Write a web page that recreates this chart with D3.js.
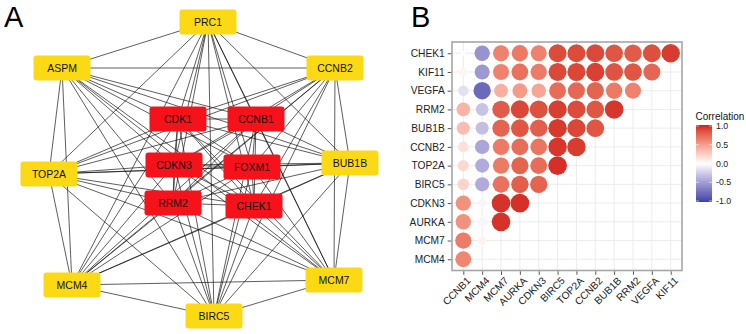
<!DOCTYPE html>
<html><head><meta charset="utf-8">
<script src="https://cdn.jsdelivr.net/npm/d3@7"></script>
<style>body{margin:0;background:#fff}svg{display:block;font-family:Arial,"Liberation Sans",sans-serif}</style>
</head><body><svg id="c" width="746" height="334"></svg>
<script>
// ---------- Panel A: PPI network ----------
const hubGenes = ["CDK1","CCNB1","CDKN3","FOXM1","RRM2","CHEK1"];
const otherGenes = ["PRC1","ASPM","CCNB2","BUB1B","TOP2A","MCM4","MCM7","BIRC5"];
// layout (center positions of node boxes)
const nodeLayout = {
  PRC1:[208,22], ASPM:[62,68], CCNB2:[335,68], CDK1:[178,119], CCNB1:[256,119],
  BUB1B:[350,163], TOP2A:[49,174], CDKN3:[174,165], FOXM1:[252,167],
  RRM2:[173,203], CHEK1:[254,206], MCM4:[72,285], MCM7:[334,280], BIRC5:[214,316]
};
// every gene pair is linked in the network (fully connected)
const networkGenes = otherGenes.concat(hubGenes);

// ---------- Panel B: correlation matrix ----------
const rowGenes = ["CHEK1","KIF11","VEGFA","RRM2","BUB1B","CCNB2","TOP2A","BIRC5","CDKN3","AURKA","MCM7","MCM4"];
const colGenes = ["CCNB1","MCM4","MCM7","AURKA","CDKN3","BIRC5","TOP2A","CCNB2","BUB1B","RRM2","VEGFA","KIF11"];
const corCHEK1 = [0.00,-0.55,0.62,0.66,0.62,0.86,0.86,0.87,0.82,0.80,0.85,0.92];
const corKIF11 = [0.05,-0.52,0.62,0.70,0.65,0.87,0.88,0.90,0.83,0.82,0.75];
const corVEGFA = [-0.15,-0.78,0.40,0.50,0.45,0.72,0.74,0.76,0.66,0.62];
const corRRM2  = [0.38,-0.30,0.80,0.88,0.84,0.91,0.86,0.82,0.94];
const corBUB1B = [0.33,-0.32,0.76,0.82,0.78,0.93,0.88,0.82];
const corCCNB2 = [0.16,-0.45,0.66,0.72,0.68,0.94,0.92];
const corTOP2A = [0.20,-0.42,0.66,0.76,0.72,0.96];
const corBIRC5 = [0.22,-0.42,0.70,0.78,0.76];
const corCDKN3 = [0.55,-0.05,0.95,0.96];
const corAURKA = [0.55,-0.05,0.95];
const corMCM7  = [0.65,0.06];
const corMCM4  = [0.60];
const corRows = [corCHEK1,corKIF11,corVEGFA,corRRM2,corBUB1B,corCCNB2,corTOP2A,corBIRC5,corCDKN3,corAURKA,corMCM7,corMCM4];
const legendTicks = [1.0,0.5,0.0,-0.5,-1.0];

const svg = d3.select("#c");
const FONT = "Arial,'Liberation Sans',sans-serif";

// ---- Panel A ----
const gA = svg.append("g");
gA.append("text").attr("x",4).attr("y",27).attr("font-size",29).attr("fill","#000").text("A");
const links = [];
networkGenes.forEach((a,i)=>networkGenes.forEach((b,j)=>{ if(j>i) links.push([a,b]); }));
gA.append("g").selectAll("line").data(links).join("line")
  .attr("x1",d=>nodeLayout[d[0]][0]).attr("y1",d=>nodeLayout[d[0]][1])
  .attr("x2",d=>nodeLayout[d[1]][0]).attr("y2",d=>nodeLayout[d[1]][1])
  .attr("stroke","#111").attr("stroke-width",0.75).attr("stroke-opacity",0.9);
const nodeG = gA.append("g").selectAll("g").data(networkGenes).join("g")
  .attr("transform",d=>`translate(${nodeLayout[d][0]},${nodeLayout[d][1]})`);
nodeG.append("rect").attr("x",-28.5).attr("y",-12.5).attr("width",57).attr("height",25).attr("rx",3)
  .attr("fill",d=>hubGenes.includes(d)?"#F5121A":"#FCD915");
nodeG.append("text").attr("text-anchor","middle").attr("dy","0.36em").attr("font-size",10.5).attr("fill","#111").text(d=>d);

// ---- Panel B ----
const gB = svg.append("g");
gB.append("text").attr("x",411).attr("y",27).attr("font-size",29).attr("fill","#000").text("B");
const x0=452,x1=682,y0=42,y1=270.5;
const x = d3.scalePoint().domain(colGenes).range([x0,x1]).padding(0.6);
const y = d3.scalePoint().domain(rowGenes).range([y0,y1]).padding(0.6);
gB.append("rect").attr("x",x0).attr("y",y0).attr("width",x1-x0).attr("height",y1-y0).attr("fill","#fff");
gB.append("g").selectAll("line").data(colGenes).join("line")
  .attr("x1",d=>x(d)).attr("x2",d=>x(d)).attr("y1",y0).attr("y2",y1).attr("stroke","#ECECEC").attr("stroke-width",1);
gB.append("g").selectAll("line").data(rowGenes).join("line")
  .attr("y1",d=>y(d)).attr("y2",d=>y(d)).attr("x1",x0).attr("x2",x1).attr("stroke","#ECECEC").attr("stroke-width",1);

const color = d3.scaleLinear().domain([-1,0,1]).range(["#3A44A6","#FFFFFF","#D11F1F"]).interpolate(d3.interpolateLab);
const radius = v => 2.5 + 7*Math.sqrt(Math.abs(v));
const cells = [];
corRows.forEach((vals,i)=>vals.forEach((v,j)=>cells.push({r:rowGenes[i],c:colGenes[j],v})));
gB.append("g").selectAll("circle").data(cells).join("circle")
  .attr("cx",d=>x(d.c)).attr("cy",d=>y(d.r)).attr("r",d=>radius(d.v))
  .attr("fill",d=>color(d.v));

gB.append("rect").attr("x",x0).attr("y",y0).attr("width",x1-x0).attr("height",y1-y0)
  .attr("fill","none").attr("stroke","#A6A6A6").attr("stroke-width",1.6);

const yAxis = d3.axisLeft(y).tickSize(3.5).tickPadding(3);
const gy = gB.append("g").attr("transform",`translate(${x0-0.8},0)`).call(yAxis);
gy.select(".domain").remove();
gy.selectAll("line").attr("stroke","#555");
gy.selectAll("text").attr("font-size",10.2).attr("fill","#222").attr("font-family",FONT);

const xAxis = d3.axisBottom(x).tickSize(3.5).tickPadding(3);
const gx = gB.append("g").attr("transform",`translate(0,${y1+0.8})`).call(xAxis);
gx.select(".domain").remove();
gx.selectAll("line").attr("stroke","#555");
gx.selectAll("text").attr("font-size",10.2).attr("fill","#222").attr("font-family",FONT)
  .attr("text-anchor","end").attr("dy","0.7em").attr("y",0)
  .attr("transform","translate(2.5,5) rotate(-45)");

// legend
const lg = gB.append("g");
lg.append("text").attr("x",695.5).attr("y",120).attr("font-size",10).attr("fill","#111").text("Correlation");
const ly = d3.scaleLinear().domain([1,-1]).range([126,201]);
const defs = svg.append("defs");
const grad = defs.append("linearGradient").attr("id","lgG").attr("x1",0).attr("x2",0).attr("y1",0).attr("y2",1);
d3.range(0,1.0001,0.05).forEach(t=>grad.append("stop").attr("offset",t).attr("stop-color",color(1-2*t)));
lg.append("rect").attr("x",696).attr("y",ly(1)-1).attr("width",16).attr("height",ly(-1)-ly(1)+2).attr("fill","url(#lgG)");
lg.selectAll("line.t").data(legendTicks).join("line").attr("class","t")
  .attr("x1",696).attr("x2",699).attr("y1",d=>ly(d)).attr("y2",d=>ly(d)).attr("stroke","#fff").attr("stroke-width",0.6);
lg.selectAll("line.u").data(legendTicks).join("line").attr("class","u")
  .attr("x1",709).attr("x2",712).attr("y1",d=>ly(d)).attr("y2",d=>ly(d)).attr("stroke","#fff").attr("stroke-width",0.6);
lg.selectAll("text.l").data(legendTicks).join("text").attr("class","l")
  .attr("x",716).attr("y",d=>ly(d)).attr("dy","0.35em").attr("font-size",8.8).attr("fill","#222")
  .text(d=>d3.format(".1f")(d).replace("−","-"));
</script></body></html>
